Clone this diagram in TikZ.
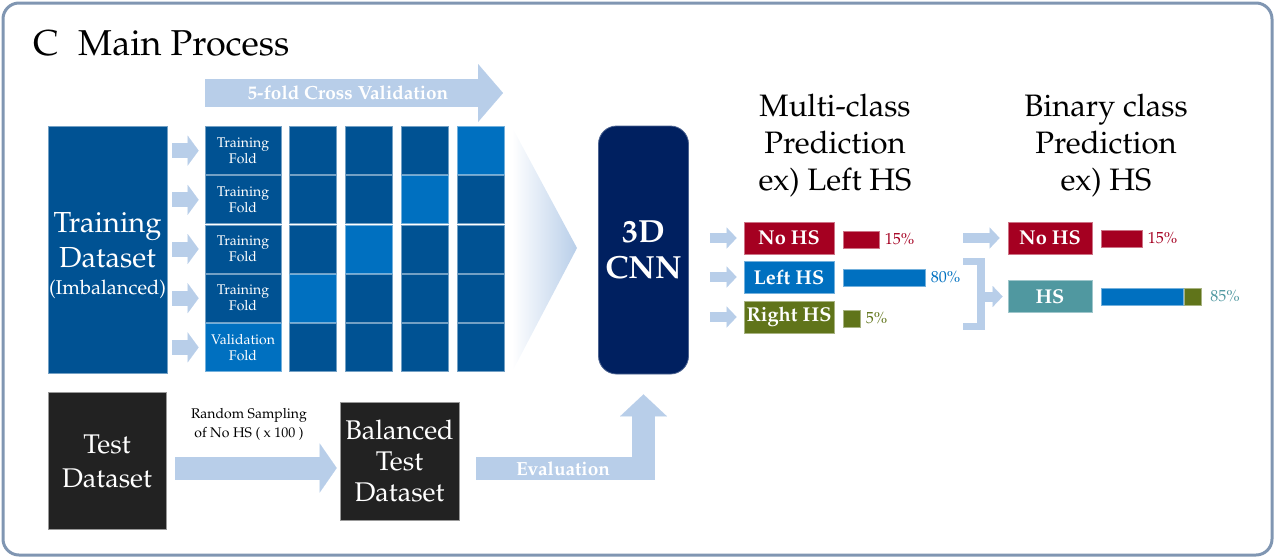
\documentclass[tikz,border=0pt]{standalone}
\usepackage[T1]{fontenc}
\usepackage{mathpazo}
\usetikzlibrary{arrows.meta,positioning,calc}
\definecolor{cellblue}{RGB}{0,82,147}
\definecolor{valblue}{RGB}{0,112,192}
\definecolor{arrblue}{RGB}{184,206,233}
\definecolor{cnnnavy}{RGB}{0,32,96}
\definecolor{nohsred}{RGB}{165,0,33}
\definecolor{rightolive}{RGB}{96,116,26}
\definecolor{hsteal}{RGB}{80,152,160}
\definecolor{dsblack}{RGB}{34,34,34}
\definecolor{framegray}{RGB}{128,150,178}
\tikzset{
	cell/.style={rectangle,inner sep=0,minimum width=47,minimum height=48,fill=cellblue,draw=cellblue!55!white,line width=0.8},
	valcell/.style={cell,fill=valblue,draw=valblue!55!white},
	fold/.style={cell,minimum width=76,text=white,align=center,font=\fontsize{14}{16}\selectfont},
	dataset/.style={rectangle,inner sep=0,fill=cellblue,draw=cellblue!55!white,line width=0.8,text=white,align=center},
	blackbox/.style={rectangle,inner sep=0,fill=dsblack,draw=black!40,line width=0.6,text=white,align=center},
	cnnbox/.style={rectangle,rounded corners=18,inner sep=0,fill=cnnnavy,draw=cnnnavy!70!white,line width=0.8,text=white,align=center,font=\bfseries\fontsize{32}{36}\selectfont},
	headtxt/.style={align=center,font=\fontsize{31}{37}\selectfont},
	titletxt/.style={font=\fontsize{36}{40}\selectfont,inner sep=0},
	arrtxt/.style={text=white,font=\bfseries\fontsize{19}{22}\selectfont,inner sep=0},
	smalltxt/.style={align=center,font=\fontsize{14}{19}\selectfont},
	classbox/.style={rectangle,minimum width=90,minimum height=32,inner sep=0,fill=#1,draw=#1!55!white,line width=0.8,text=white,font=\bfseries\fontsize{20}{22}\selectfont},
	bar/.style={rectangle,inner sep=0,minimum height=17,anchor=west,fill=#1,draw=#1!55!white,line width=0.6},
	pct/.style={inner sep=0,text=#1,font=\fontsize{16}{18}\selectfont},
	smallarr/.style={arrblue,line width=15,-{Triangle[width=30pt,length=11pt,line width=0.01pt]}},
	midarr/.style={arrblue,line width=10,-{Triangle[width=21pt,length=10pt,line width=0.01pt]}},
	bigarr/.style={arrblue,line width=23,-{Triangle[width=49pt,length=17pt,line width=0.01pt]}},
	evalarr/.style={arrblue,line width=23,line join=miter,-{Triangle[width=47pt,length=22pt,line width=0.01pt]}},
	cvarr/.style={arrblue,line width=28,-{Triangle[width=58pt,length=25pt,line width=0.01pt]}}
}

\begin{document}
\begin{tikzpicture}[x=1pt,y=-1pt]
	\useasboundingbox (0,0) rectangle (1275,558);
	\draw[framegray,line width=3,rounded corners=16] (3,3) rectangle (1272,555);

	%%Title
	\node[titletxt,anchor=base west] (lc) at (33,55) {C};
	\node[titletxt,anchor=base west] (ttl) at (78,55) {Main Process};

	%%Cross validation arrow
	\coordinate (cvs) at (205,93);
	\coordinate (cve) at (503,93);
	\draw[cvarr] (cvs) -- (cve);
	\node[arrtxt] (cvt) at (348,93) {5-fold Cross Validation};

	%%Training dataset
	\node[dataset,minimum width=119,minimum height=247,font=\fontsize{29}{35}\selectfont] (trn) at (107.5,249.5)
	{\rule{0pt}{33pt}Training\\Dataset\\[-8pt]{\fontsize{20}{24}\selectfont(Imbalanced)}};

	%%Folds
	\node[fold] (f1) at (243,150.6) {Training\\Fold};
	\node[fold] (f2) at (243,199.8) {Training\\Fold};
	\node[fold] (f3) at (243,249) {Training\\Fold};
	\node[fold] (f4) at (243,298.2) {Training\\Fold};
	\node[fold,fill=valblue,draw=valblue!55!white] (f5) at (243,347.4) {Validation\\Fold};

	%arrows into the folds
	\draw[smallarr,shorten <=5pt,shorten >=6pt] (trn.east |- f1) -- (f1.west);
	\draw[smallarr,shorten <=5pt,shorten >=6pt] (trn.east |- f2) -- (f2.west);
	\draw[smallarr,shorten <=5pt,shorten >=6pt] (trn.east |- f3) -- (f3.west);
	\draw[smallarr,shorten <=5pt,shorten >=6pt] (trn.east |- f4) -- (f4.west);
	\draw[smallarr,shorten <=5pt,shorten >=6pt] (trn.east |- f5) -- (f5.west);

	%column a
	\node[cell] (ca1) at (312.5,150.6) {};
	\node[cell] (ca2) at (312.5,199.8) {};
	\node[cell] (ca3) at (312.5,249) {};
	\node[valcell] (ca4) at (312.5,298.2) {};
	\node[cell] (ca5) at (312.5,347.4) {};
	%column b
	\node[cell] (cb1) at (368.5,150.6) {};
	\node[cell] (cb2) at (368.5,199.8) {};
	\node[valcell] (cb3) at (368.5,249) {};
	\node[cell] (cb4) at (368.5,298.2) {};
	\node[cell] (cb5) at (368.5,347.4) {};
	%column c
	\node[cell] (cc1) at (424.5,150.6) {};
	\node[valcell] (cc2) at (424.5,199.8) {};
	\node[cell] (cc3) at (424.5,249) {};
	\node[cell] (cc4) at (424.5,298.2) {};
	\node[cell] (cc5) at (424.5,347.4) {};
	%column d
	\node[valcell] (cd1) at (480.5,150.6) {};
	\node[cell] (cd2) at (480.5,199.8) {};
	\node[cell] (cd3) at (480.5,249) {};
	\node[cell] (cd4) at (480.5,298.2) {};
	\node[cell] (cd5) at (480.5,347.4) {};

	%%Funnel into the network
	\shade[left color=white,right color=arrblue] (512,127) -- (577,248) -- (512,372) -- cycle;

	%%3D CNN
	\node[cnnbox,minimum width=90,minimum height=248] (cnn) at (643.5,250) {3D\\CNN};

	%%Multi-class prediction
	\node[headtxt] (mch) at (835,146) {Multi-class\\Prediction\\ex) Left HS};
	\node[classbox=nohsred] (nohs) at (789,238) {No HS};
	\node[classbox=valblue] (lhs) at (789,277) {Left HS};
	\node[classbox=rightolive] (rhs) at (789,317) {Right HS};
	\draw[midarr,shorten <=21pt,shorten >=7pt] (cnn.east |- nohs) -- (nohs.west);
	\draw[midarr,shorten <=21pt,shorten >=7pt] (cnn.east |- lhs) -- (lhs.west);
	\draw[midarr,shorten <=21pt,shorten >=7pt] (cnn.east |- rhs) -- (rhs.west);
	%bars
	\node[bar=nohsred,minimum width=36] (bnr) at (843,239.5) {};
	\node[pct=nohsred,right=5pt of bnr] (pnr) {15\%};
	\node[bar=valblue,minimum width=82] (blb) at (843,277.5) {};
	\node[pct=valblue,right=5pt of blb] (plb) {80\%};
	\node[bar=rightolive,minimum width=17] (bro) at (843,318.5) {};
	\node[pct=rightolive,right=5pt of bro] (pro) {5\%};

	%%Binary class prediction
	\node[headtxt] (bch) at (1106,146) {Binary class\\Prediction\\ex) HS};
	\node[classbox=nohsred,minimum width=84] (bnohs) at (1050,238) {No HS};
	\node[classbox=hsteal,minimum width=84] (bhs) at (1050,296.5) {HS};
	\coordinate (bst) at (963,238);
	\draw[midarr,shorten >=8pt] (bst) -- (bnohs.west);
	%bracket
	\draw[arrblue,line width=7.5] (963,261.5) -- (981,261.5) -- (981,326.5) -- (963,326.5);
	\coordinate (brk) at (981,294);
	\draw[midarr,shorten >=5pt] (brk |- bhs) -- (bhs.west);
	%bars
	\node[bar=nohsred,minimum width=41] (bbnr) at (1101,238.5) {};
	\node[pct=nohsred,right=5pt of bbnr] (pbnr) {15\%};
	\node[bar=valblue,minimum width=82] (bbhs) at (1101,296.5) {};
	\node[bar=rightolive,minimum width=17,right=0pt of bbhs] (bbro) {};
	\node[pct=hsteal,right=9pt of bbro] (pbhs) {85\%};

	%%Test data
	\node[blackbox,minimum width=118,minimum height=137,font=\fontsize{27}{34}\selectfont] (tst) at (107,461) {Test\\Dataset};
	\node[smalltxt] (rst) at (249,424) {Random Sampling\\of No HS ( x 100 )};
	\node[blackbox,minimum width=119,minimum height=118,font=\fontsize{27}{31}\selectfont] (bal) at (399.5,461) {Balanced\\Test\\Dataset};
	\draw[bigarr,shorten <=9pt,shorten >=3pt] ([yshift=-7pt]tst.east) -- ([yshift=-7pt]bal.west);
	\draw[evalarr,shorten <=17pt,shorten >=20pt] ([yshift=-7.5pt]bal.east) -| (cnn.south);
	\node[arrtxt] (evt) at (563,468.5) {Evaluation};

\end{tikzpicture}
\end{document}
